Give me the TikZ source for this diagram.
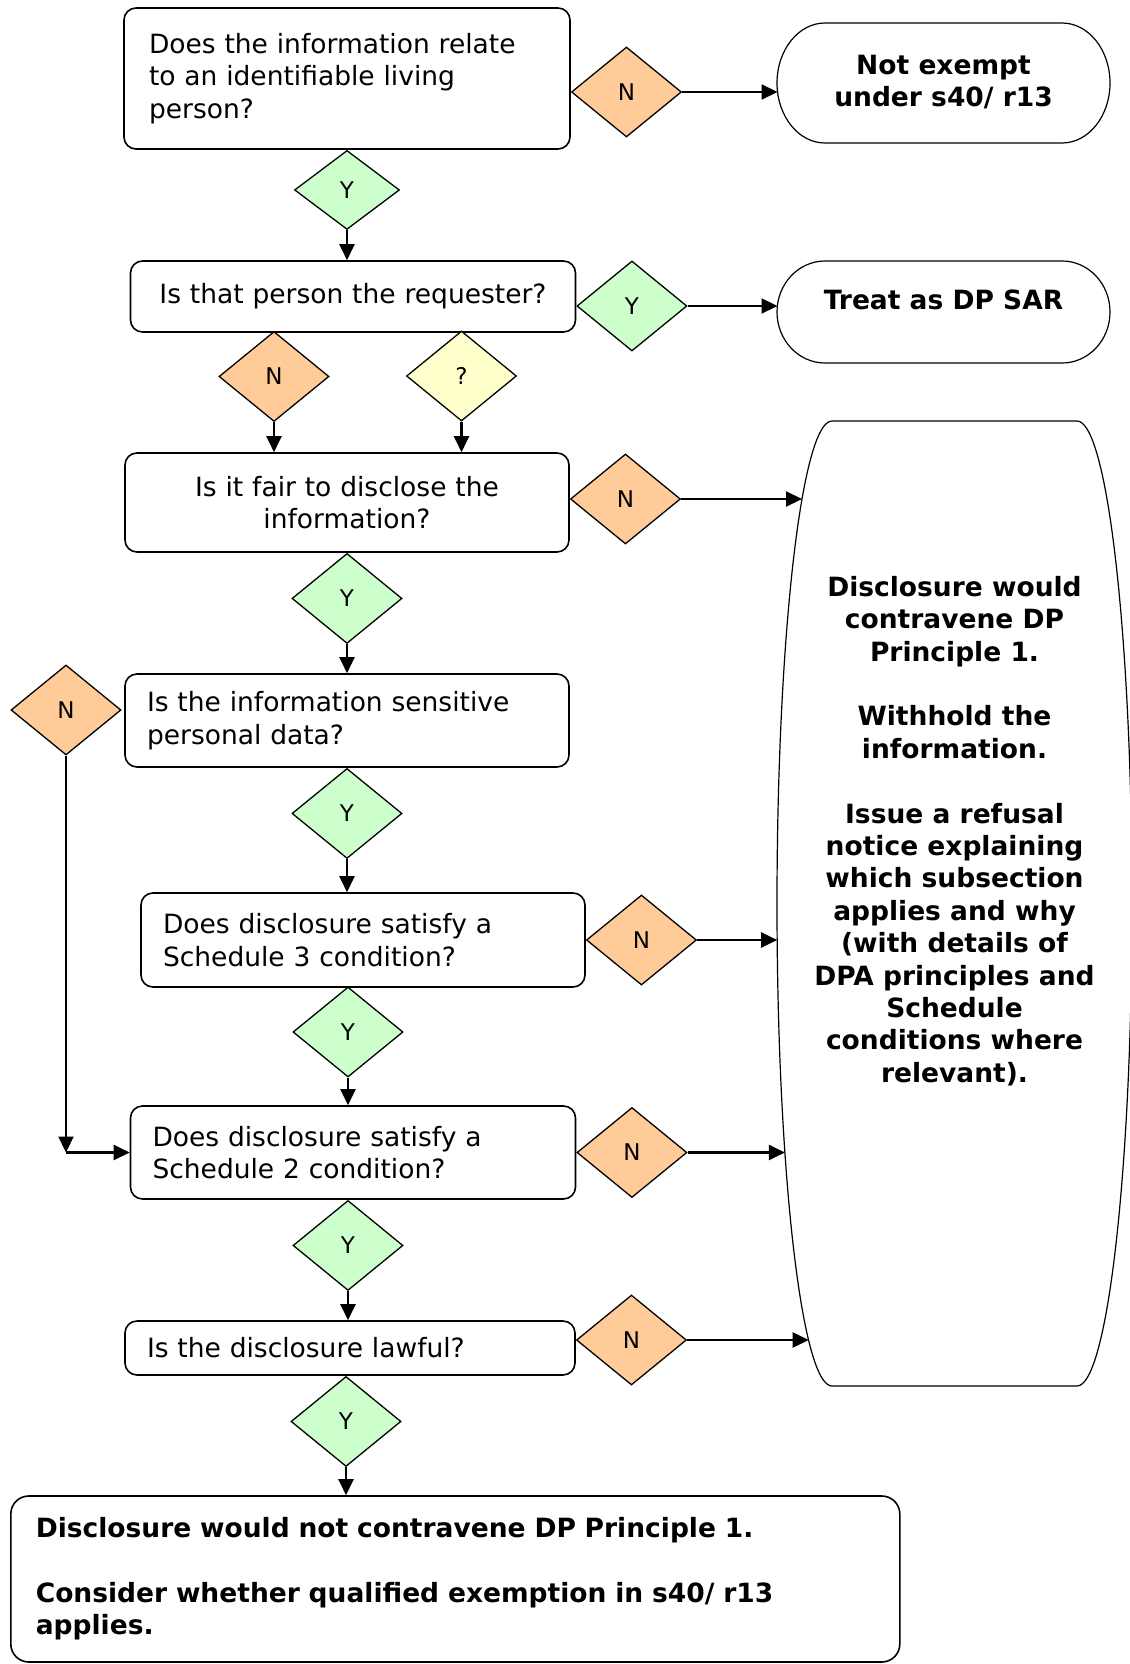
\documentclass[tikz,border=0pt]{standalone}
\usepackage{fontspec}
\setmainfont{DejaVu Sans}
\usetikzlibrary{arrows.meta,positioning,shapes.geometric}
\definecolor{nofill}{HTML}{FFCC99}
\definecolor{yesfill}{HTML}{CCFFCC}
\definecolor{whatfill}{HTML}{FFFFCC}
\tikzset{
  qbox/.style={rectangle, rounded corners=12pt, draw=black, fill=white, line width=1.6pt,
               inner xsep=22pt, inner ysep=0pt, align=left, font=\fontsize{26.5}{32.4}\selectfont},
  dia/.style={diamond, draw=black, line width=1.3pt, inner sep=0pt, minimum width=110pt,
              minimum height=90pt, font=\fontsize{23}{26}\selectfont},
  nodia/.style={dia, fill=nofill},
  yesdia/.style={dia, fill=yesfill},
  whatdia/.style={dia, fill=whatfill},
  endtext/.style={align=center, inner sep=0pt, font=\fontsize{26.5}{32.4}\selectfont\bfseries},
  endline/.style={draw=black, line width=1.2pt},
  flow/.style={-{Triangle[length=16pt, width=15pt]}, draw=black, line width=2.2pt},
}
\begin{document}
\begin{tikzpicture}[x=1pt, y=-1pt]
\useasboundingbox (0,0) rectangle (1129,1664);

% questions
\node[qbox, inner xsep=25pt, text width=396pt, minimum height=141pt] (q1) at (347,78.5)
 {Does the information relate\\to an identifiable living\\person?};
\node[qbox, text width=401pt, minimum height=71pt, align=center] (q2) at (353,296.5)
 {Is that person the requester?};
\node[qbox, text width=400pt, minimum height=99pt, align=center] (q3) at (347,502.5)
 {Is it fair to disclose the\\information?};
\node[qbox, text width=400pt, minimum height=93pt] (q4) at (347,720.5)
 {Is the information sensitive\\personal data?};
\node[qbox, text width=400pt, minimum height=94pt] (q5) at (363,940)
 {Does disclosure satisfy a\\Schedule 3 condition?};
\node[qbox, text width=401pt, minimum height=93pt] (q6) at (353,1152.5)
 {Does disclosure satisfy a\\Schedule 2 condition?};
\node[qbox, text width=406pt, minimum height=54pt] (q7) at (350,1348)
 {Is the disclosure lawful?};
\node[qbox, inner xsep=25pt, text width=839pt, minimum height=166pt, rounded corners=18pt,
      font=\fontsize{26.5}{32.4}\selectfont\bfseries] (fin) at (455.3,1579)
 {Disclosure would not contravene DP Principle 1.\\[32.4pt]
  Consider whether qualified exemption in s40/ r13\\applies.};

% answers
\node[nodia, right=0pt of q1, yshift=-13.5pt] (d1) {N};
\node[yesdia, minimum width=105pt, minimum height=79pt, below=0pt of q1] (y1) {Y};
\node[yesdia, right=0pt of q2, yshift=-9.5pt] (y2) {Y};
\node[nodia] (n2) at (274,376.5) {N};
\node[whatdia] (u2) at (461.5,376) {?};
\node[nodia, right=0pt of q3, yshift=3.5pt] (n3) {N};
\node[yesdia, below=0pt of q3] (y3) {Y};
\node[nodia] (n4) at (66,710) {N};
\node[yesdia, below=0pt of q4] (y4) {Y};
\node[nodia, right=0pt of q5] (n5) {N};
\node[yesdia] (y5) at (348,1032) {Y};
\node[nodia, right=0pt of q6] (n6) {N};
\node[yesdia, below=0pt of q6, xshift=-5pt] (y6) {Y};
\node[nodia, right=0pt of q7, yshift=8pt] (n7) {N};
\node[yesdia, below=0pt of q7, xshift=-4pt] (y7) {Y};

% outcomes
\draw[endline] (825,23) -- (1062,23) arc[start angle=-90, end angle=90, x radius=48, y radius=60]
  -- (825,143) arc[start angle=90, end angle=270, x radius=48, y radius=60] -- cycle;
\node[endtext] (t1) at (943.5,82) {Not exempt\\under s40/ r13};
\draw[endline] (825,261) -- (1062,261) arc[start angle=-90, end angle=90, x radius=48, y radius=51]
  -- (825,363) arc[start angle=90, end angle=270, x radius=48, y radius=51] -- cycle;
\node[endtext] (t2) at (943.5,300) {Treat as DP SAR};
\draw[endline] (832,421) -- (1077,421) arc[start angle=-90, end angle=90, x radius=55, y radius=482.5]
  -- (832,1386) arc[start angle=90, end angle=270, x radius=55, y radius=482.5] -- cycle;
\node[endtext] (t3) at (954.5,831)
 {Disclosure would\\contravene DP\\Principle 1.\\[32.4pt]
  Withhold the\\information.\\[32.4pt]
  Issue a refusal\\notice explaining\\which subsection\\applies and why\\(with details of\\
  DPA principles and\\Schedule\\conditions where\\relevant).};

\coordinate (t1w) at (777.5,0 |- d1.east);
\coordinate (t2w) at (777.5,0 |- y2.east);
\coordinate (w3) at (802,0 |- n3.east);
\coordinate (w5) at (777.2,0 |- n5.east);
\coordinate (w6) at (784.9,0 |- n6.east);
\coordinate (w7) at (808.7,0 |- n7.east);
\coordinate (bend) at (n4.south |- q6.west);

% connectors
\draw[flow] (d1) -- (t1w);
\draw[flow] (y1) -- (q2.north -| y1);
\draw[flow] (y2) -- (t2w);
\draw[flow] (n2) -- (q3.north -| n2);
\draw[flow] (u2) -- (q3.north -| u2);
\draw[flow] (n3) -- (w3);
\draw[flow] (y3) -- (q4.north -| y3);
\draw[flow] (n4) -- (bend);
\draw[flow] (bend) -- (q6);
\draw[flow] (y4) -- (q5.north -| y4);
\draw[flow] (n5) -- (w5);
\draw[flow] (y5) -- (q6.north -| y5);
\draw[flow] (n6) -- (w6);
\draw[flow] (y6) -- (q7.north -| y6);
\draw[flow] (n7) -- (w7);
\draw[flow] (y7) -- (fin.north -| y7);
\end{tikzpicture}
\end{document}
